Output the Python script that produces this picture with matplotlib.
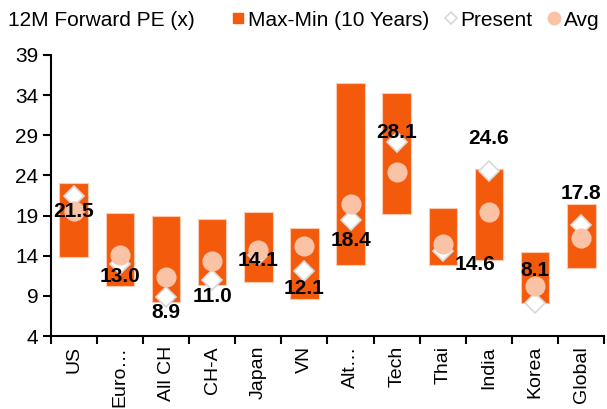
import numpy as np
import matplotlib.pyplot as plt
from matplotlib.lines import Line2D

plt.rcParams['font.family'] = ['Liberation Sans', 'DejaVu Sans']

markets = ['US', 'Euro\u2026', 'All CH', 'CH-A', 'Japan', 'VN', 'Alt\u2026',
           'Tech', 'Thai', 'India', 'Korea', 'Global']
pe_max = [23.0, 19.3, 18.9, 18.6, 19.4, 17.5, 35.5, 34.2, 19.9, 24.8, 14.5, 20.4]
pe_min = [13.9, 10.3, 8.2, 10.4, 10.8, 8.6, 12.8, 19.2, 12.8, 13.5, 8.1, 12.5]
pe_avg = [19.6, 14.1, 11.4, 13.4, 14.7, 15.2, 20.4, 24.4, 15.5, 19.4, 10.3, 16.2]
pe_now = [21.5, 13.0, 8.9, 11.0, 14.1, 12.1, 18.4, 28.1, 14.6, 24.6, 8.1, 17.8]

# label offsets in pixels (dx, dy)
label_off = [(0, -16), (0, -13), (0, -16), (0, -17), (0, -6), (0, -17),
             (0, -20), (0, 10), (32, -14), (0, 32), (0, 33), (0, 32)]

bar_col = '#F45A0C'
avg_col = '#FAC3A6'
fs = 15

fig = plt.figure(figsize=(6.07, 4.09), dpi=100)
ax = fig.add_axes([0.0835, 0.178, 0.912, 0.688])

x = np.arange(len(markets))
heights = np.array(pe_max) - np.array(pe_min)
ax.bar(x, heights, bottom=pe_min, width=0.62, color=bar_col,
       edgecolor='#FBC9AE', linewidth=0.8, zorder=2)
ax.plot(x, pe_now, linestyle='none', marker='D', markersize=10,
        markerfacecolor='white', markeredgecolor='#D9D9D9',
        markeredgewidth=1.2, zorder=3)
ax.plot(x, pe_avg, linestyle='none', marker='o', markersize=13.5,
        markerfacecolor=avg_col, markeredgecolor=avg_col, zorder=4)

for i, v in enumerate(pe_now):
    ax.annotate(f'{v:.1f}', (x[i], v), xytext=label_off[i],
                textcoords='offset pixels', ha='center', va='center',
                fontsize=fs, fontweight='bold', zorder=5)

ax.set_xlim(-0.5, len(markets) - 0.5)
ax.set_ylim(4, 39)
ax.set_yticks(np.arange(4, 40, 5))
ax.set_xticks(x)
ax.set_xticklabels(markets, rotation=90)
ax.set_xticks(np.arange(-0.5, len(markets), 1), minor=True)
ax.tick_params(axis='x', which='major', length=0, pad=7, labelsize=14)
ax.tick_params(axis='x', which='minor', length=6, width=1.5, direction='out')
ax.tick_params(axis='y', length=6, width=1.5, labelsize=fs, pad=3)
for s in ['top', 'right']:
    ax.spines[s].set_visible(False)
for s in ['left', 'bottom']:
    ax.spines[s].set_linewidth(1.5)

fig.text(0.013, 0.951, '12M Forward PE (x)', fontsize=fs, va='center')

handles = [
    Line2D([], [], linestyle='none', marker='s', markersize=7,
           markerfacecolor=bar_col, markeredgecolor=bar_col),
    Line2D([], [], linestyle='none', marker='D', markersize=6,
           markerfacecolor='white', markeredgecolor='#D9D9D9',
           markeredgewidth=1.2),
    Line2D([], [], linestyle='none', marker='o', markersize=9,
           markerfacecolor=avg_col, markeredgecolor=avg_col),
]
fig.legend(handles, ['Max-Min (10 Years)', 'Present', 'Avg'], ncol=3,
           loc='center left', bbox_to_anchor=(0.384, 0.951), frameon=False,
           fontsize=fs, handlelength=0.5, handletextpad=0.2,
           columnspacing=0.8, borderaxespad=0, borderpad=0)

fig.savefig('out.png', dpi=100)
